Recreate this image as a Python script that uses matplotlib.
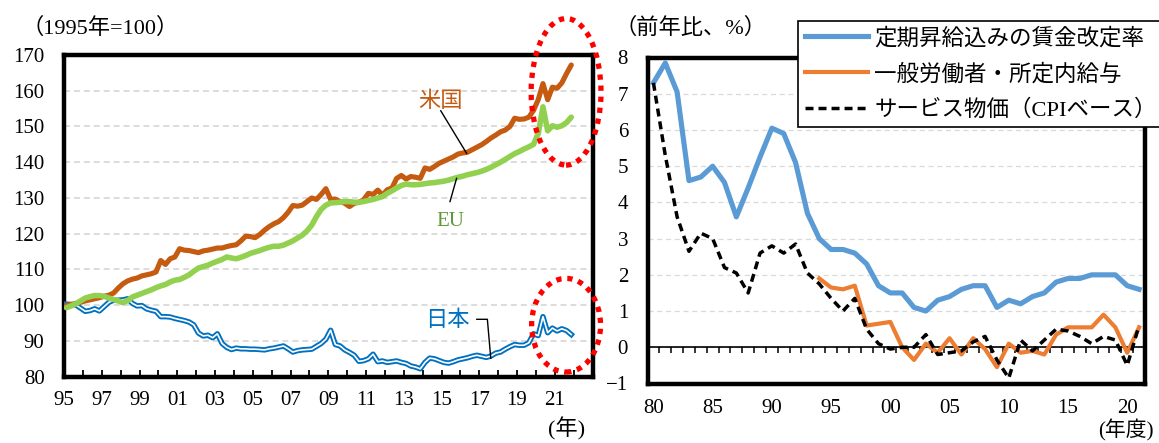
import numpy as np
import matplotlib
matplotlib.use("Agg")
import matplotlib.pyplot as plt
from matplotlib.patches import Ellipse

plt.rcParams["font.family"] = ["Liberation Serif", "Noto Sans CJK JP"]

W, H = 1159, 443

# ---- left panel: hourly wages, 1995 = 100, quarterly 1995Q1-2021Q4 ----
first_year = 1995
us_wage = [
    100.0, 100.2, 100.5, 100.8,   # 1995
    101.2, 101.5, 101.8, 102.1,   # 1996
    102.5, 102.8, 103.4, 104.8,   # 1997
    106.0, 106.8, 107.3, 107.6,   # 1998
    108.2, 108.5, 108.8, 109.3,   # 1999
    112.5, 111.4, 113.0, 113.5,   # 2000
    115.8, 115.4, 115.3, 115.0,   # 2001
    114.7, 115.2, 115.4, 115.7,   # 2002
    116.0, 116.0, 116.4, 116.7,   # 2003
    116.9, 118.0, 119.3, 119.2,   # 2004
    118.9, 119.8, 121.0, 122.0,   # 2005
    122.8, 123.4, 124.5, 126.0,   # 2006
    127.9, 127.7, 128.0, 129.0,   # 2007
    130.0, 129.6, 131.0, 132.6,   # 2008
    129.6, 129.7, 129.0, 128.5,   # 2009
    127.6, 128.5, 128.8, 129.5,   # 2010
    131.3, 131.0, 132.2, 130.8,   # 2011
    132.3, 132.8, 135.5, 136.3,   # 2012
    135.3, 136.0, 135.8, 135.5,   # 2013
    138.4, 138.0, 138.8, 139.7,   # 2014
    140.3, 140.9, 141.5, 142.3,   # 2015
    142.6, 142.8, 143.5, 144.2,   # 2016
    144.9, 145.8, 146.8, 147.6,   # 2017
    148.5, 149.0, 150.0, 152.3,   # 2018
    152.0, 152.1, 152.6, 154.5,   # 2019
    157.5, 162.0, 157.5, 161.0,   # 2020
    160.7, 162.2, 164.8, 167.2,   # 2021
]
eu_wage = [
    99.3, 99.8, 100.4, 101.2,     # 1995
    102.0, 102.4, 102.7, 102.7,   # 1996
    102.5, 102.0, 101.6, 101.2,   # 1997
    100.7, 101.3, 102.3, 102.8,   # 1998
    103.3, 103.8, 104.3, 104.9,   # 1999
    105.4, 105.8, 106.5, 107.0,   # 2000
    107.2, 107.8, 108.5, 109.5,   # 2001
    110.4, 110.8, 111.2, 111.8,   # 2002
    112.3, 112.8, 113.5, 113.2,   # 2003
    113.0, 113.4, 113.9, 114.5,   # 2004
    114.9, 115.3, 115.8, 116.2,   # 2005
    116.5, 116.5, 116.8, 117.4,   # 2006
    118.0, 118.8, 119.6, 120.8,   # 2007
    122.4, 124.8, 126.8, 128.0,   # 2008
    128.6, 128.7, 128.8, 129.0,   # 2009
    129.0, 128.8, 128.8, 129.0,   # 2010
    129.3, 129.6, 130.0, 130.4,   # 2011
    131.3, 132.0, 132.8, 133.5,   # 2012
    133.9, 133.7, 133.7, 133.8,   # 2013
    134.0, 134.2, 134.3, 134.5,   # 2014
    134.7, 135.0, 135.4, 135.8,   # 2015
    136.1, 136.5, 136.8, 137.1,   # 2016
    137.5, 138.0, 138.6, 139.3,   # 2017
    140.0, 140.8, 141.6, 142.4,   # 2018
    143.0, 143.7, 144.3, 145.0,   # 2019
    148.0, 155.5, 148.8, 150.2,   # 2020
    149.8, 150.2, 151.1, 152.6,   # 2021
]
jp_wage = [
    100.3, 100.2, 100.1, 99.2,    # 1995
    98.3, 98.5, 99.0, 98.4,       # 1996
    99.6, 100.8, 101.4, 101.4,    # 1997
    101.5, 101.8, 100.5, 99.8,    # 1998
    99.9, 99.0, 98.6, 98.3,       # 1999
    96.8, 96.8, 96.7, 96.3,       # 2000
    96.0, 95.7, 95.3, 94.5,       # 2001
    92.2, 91.4, 91.6, 90.9,       # 2002
    92.0, 89.3, 88.2, 87.6,       # 2003
    88.0, 87.8, 87.8, 87.7,       # 2004
    87.7, 87.6, 87.5, 87.8,       # 2005
    88.0, 88.3, 88.6, 87.8,       # 2006
    86.9, 87.3, 87.5, 87.6,       # 2007
    87.7, 88.5, 89.3, 90.5,       # 2008
    93.0, 89.0, 88.6, 87.5,       # 2009
    86.8, 86.0, 84.3, 84.5,       # 2010
    85.0, 86.3, 84.2, 84.4,       # 2011
    84.0, 84.2, 84.4, 84.0,       # 2012
    83.7, 83.0, 82.7, 82.2,       # 2013
    84.0, 85.2, 85.0, 84.5,       # 2014
    84.0, 83.8, 84.2, 84.7,       # 2015
    85.0, 85.3, 85.7, 86.0,       # 2016
    85.7, 85.4, 85.8, 86.6,       # 2017
    86.9, 87.7, 88.4, 89.0,       # 2018
    88.8, 88.8, 89.5, 92.0,       # 2019
    91.5, 96.8, 92.3, 93.6,       # 2020
    92.8, 93.4, 92.9, 91.8,       # 2021
]
left_xticks = list(range(1995, 2024))
left_xlabels = [f"{y % 100:02d}" if (y % 2 == 1 and y <= 2021) else "" for y in left_xticks]

# ---- right panel: fiscal-year rates, % y/y ----
fiscal_years = list(range(1980, 2022))
wage_revision = [7.3, 7.85, 7.05, 4.6, 4.7, 5.0, 4.55, 3.6, 4.4, 5.25,
                 6.05, 5.9, 5.1, 3.7, 3.0, 2.7, 2.7, 2.6, 2.3, 1.7,
                 1.5, 1.5, 1.1, 1.0, 1.3, 1.4, 1.6, 1.7, 1.7, 1.1,
                 1.3, 1.2, 1.4, 1.5, 1.8, 1.9, 1.9, 2.0, 2.0, 2.0,
                 1.7, 1.6]
scheduled_pay = [np.nan] * 14 + [
                 1.9, 1.65, 1.6, 1.7, 0.6, 0.65,
                 0.7, 0.0, -0.35, 0.1, -0.15, 0.25, -0.2, 0.25, -0.05, -0.55,
                 0.1, -0.15, -0.1, -0.2, 0.35, 0.55, 0.55, 0.55, 0.9, 0.55,
                 -0.15, 0.55]
service_cpi = [7.3, 5.3, 3.6, 2.65, 3.15, 3.0, 2.2, 2.05, 1.5, 2.6,
               2.8, 2.6, 2.85, 2.05, 1.75, 1.35, 1.0, 1.35, 0.5, 0.1,
               -0.05, 0.0, 0.0, 0.35, -0.2, -0.15, -0.1, 0.15, 0.3, -0.35,
               -0.85, 0.2, -0.1, 0.2, 0.5, 0.45, 0.3, 0.1, 0.3, 0.2,
               -0.5, 0.6]
right_xticks = list(range(1980, 2021, 5))
right_xlabels = [f"{y % 100:02d}" for y in right_xticks]
labels_right = ["定期昇給込みの賃金改定率", "一般労働者・所定内給与", "サービス物価（CPIベース）"]

NUM_FS = 15

fig = plt.figure(figsize=(W / 100, H / 100), dpi=100)

# ================= left panel =================
ax1 = fig.add_axes([64 / W, 1 - 376.7 / H, (592.5 - 64) / W, (376.7 - 55) / H])
tq = first_year + 0.125 + 0.25 * np.arange(len(us_wage))

ax1.plot(tq, jp_wage, color="#0070C0", lw=3.9, solid_joinstyle="round", zorder=3)
ax1.plot(tq, jp_wage, color="white", lw=1.2, solid_joinstyle="round", zorder=3.1)
ax1.plot(tq, us_wage, color="#C55A11", lw=3.7, solid_joinstyle="round",
         solid_capstyle="round", zorder=4)
ax1.plot(tq, eu_wage, color="#92D050", lw=4.0, solid_joinstyle="round",
         solid_capstyle="round", zorder=5)

ax1.set_xlim(1995, 2023)
ax1.set_ylim(80, 170)
ax1.set_yticks(range(80, 171, 10))
ax1.set_xticks(left_xticks)
ax1.set_xticklabels(left_xlabels)
ax1.tick_params(axis="y", length=0, pad=14, labelsize=NUM_FS)
ax1.tick_params(axis="x", direction="in", length=5, width=1.3, pad=10.5,
                labelsize=NUM_FS, top=False)
ax1.set_axisbelow(True)
ax1.yaxis.grid(True, color="#D9D9D9", lw=1.3, linestyle=(0, (3.3, 2.2)))
for s in ax1.spines.values():
    s.set_linewidth(3.2)
    s.set_color("black")

# call-outs
ax1.text(2014.95, 156.9, "米国", color="#C55A11", fontsize=16,
         ha="center", va="center")
ax1.plot([2014.96, 2016.33], [154.4, 142.5], color="black", lw=1.0, zorder=6)
ax1.text(2015.45, 123.4, "EU", color="#5E9A35", fontsize=15,
         ha="center", va="center")
ax1.plot([2015.45, 2015.8], [129.0, 135.5], color="black", lw=1.0, zorder=6)
ax1.text(2015.32, 95.7, "日本", color="#0070C0", fontsize=16,
         ha="center", va="center")
ax1.plot([2016.87, 2017.43, 2017.61], [96.06, 96.06, 85.15], color="black",
         lw=1.0, zorder=6)

# highlight rings
for (cx, cy, w, h) in [(2021.6, 159.7, 3.7, 41.0), (2021.6, 94.4, 3.65, 26.2)]:
    e = Ellipse((cx, cy), w, h, fill=False, edgecolor="#FF0000", lw=3.8,
                linestyle=(0, (1.0, 1.1)), clip_on=False, zorder=7)
    ax1.add_patch(e)

fig.text(100 / W, 1 - 28 / H, "（1995年=100）", fontsize=16, ha="center", va="center")
fig.text(566.7 / W, 1 - 429 / H, "(年)", fontsize=16, ha="center", va="center")

# ================= right panel =================
ax2 = fig.add_axes([647.5 / W, 1 - 383.5 / H, (1145 - 647.5) / W, (383.5 - 57.5) / H])
l1, = ax2.plot(fiscal_years, wage_revision, color="#5B9BD5", lw=3.7,
               solid_joinstyle="round", zorder=3)
l2, = ax2.plot(fiscal_years, scheduled_pay, color="#ED7D31", lw=3.0,
               solid_joinstyle="round", zorder=4)
l3, = ax2.plot(fiscal_years, service_cpi, color="black", lw=2.5,
               linestyle=(0, (2.3, 1.45)), dash_capstyle="butt", zorder=5)

ax2.set_xlim(fiscal_years[0] - 0.5, fiscal_years[-1] + 0.5)
ax2.set_ylim(-1, 8)
ax2.set_yticks(range(-1, 9))
ax2.set_xticks(right_xticks)
ax2.set_xticklabels(right_xlabels)
ax2.tick_params(axis="y", length=0, pad=14, labelsize=NUM_FS)
ax2.tick_params(axis="x", length=0, pad=11, labelsize=NUM_FS)
ax2.set_axisbelow(True)
ax2.yaxis.grid(True, color="#D9D9D9", lw=0.9, linestyle=(0, (4, 3)))
for s in ax2.spines.values():
    s.set_linewidth(3.2)
    s.set_color("black")

# zero line with category-boundary ticks
ax2.axhline(0, color="black", lw=1.2, zorder=2)
bounds = np.array(fiscal_years[:-1]) + 0.5
ax2.vlines(bounds, -0.17, 0, color="black", lw=1.1, zorder=2)

leg = ax2.legend([l1, l2, l3], labels_right, loc="upper left",
                 bbox_to_anchor=(798 / W, 1 - 21 / H), bbox_transform=fig.transFigure,
                 fontsize=16.2, frameon=True, fancybox=False, framealpha=1,
                 edgecolor="black", borderpad=0.3, handlelength=2.8,
                 handletextpad=0.28, labelspacing=0.63, borderaxespad=0)
leg.get_frame().set_linewidth(1.2)
leg.set_zorder(10)

fig.text(690 / W, 1 - 28 / H, "（前年比、%）", fontsize=16, ha="center", va="center")
fig.text(1126 / W, 1 - 430 / H, "(年度)", fontsize=15, ha="center", va="center")

fig.savefig("out.png", dpi=100)
